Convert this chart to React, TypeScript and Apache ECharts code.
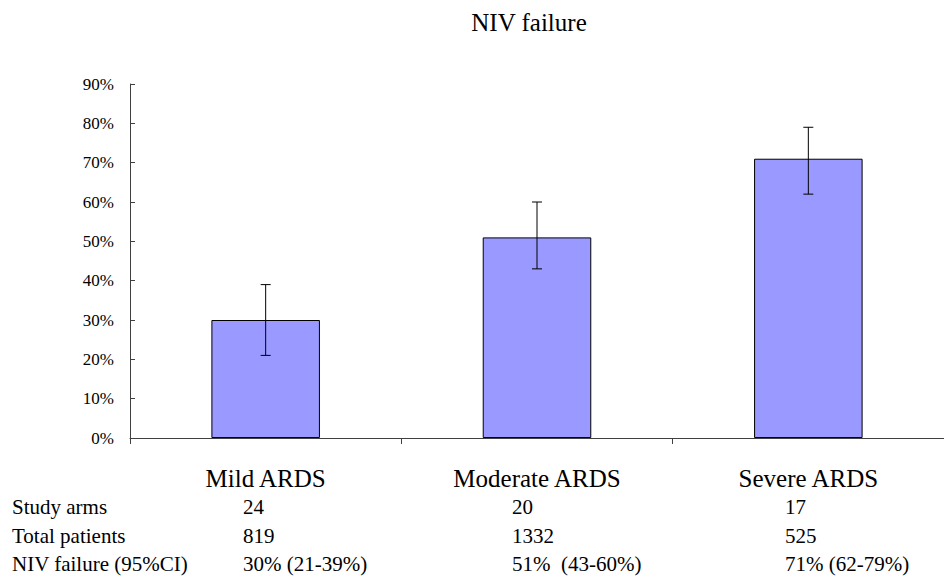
import React, { useEffect, useRef } from "react";
import * as echarts from "echarts";

const categories = ["Mild ARDS", "Moderate ARDS", "Severe ARDS"];
const failureRate = [30, 51, 71];
const ciLower = [21, 43, 62];
const ciUpper = [39, 60, 79];
const rowLabels = ["Study arms", "Total patients", "NIV failure (95%CI)"];
const studyArms = ["24", "20", "17"];
const totalPatients = ["819", "1332", "525"];
const failureText = ["30% (21-39%)", "51%  (43-60%)", "71% (62-79%)"];

const FONT = "Liberation Serif, serif";

export default function App() {
  const ref = useRef<HTMLDivElement>(null);
  useEffect(() => {
    if (!ref.current) return;
    const chart = echarts.init(ref.current, undefined, { renderer: "svg" });
    const rows = [studyArms, totalPatients, failureText];
    const colX = [243, 512, 785];
    const rowY = [507, 536, 564];
    const tableTexts: any[] = [];
    const tstyle = (text: string) => ({
      text,
      fontFamily: FONT,
      fontSize: 21,
      fill: "#000",
      textVerticalAlign: "middle",
    });
    rows.forEach((row, r) => {
      tableTexts.push({ type: "text", x: 12, y: rowY[r], style: tstyle(rowLabels[r]) });
      row.forEach((v, c) => {
        tableTexts.push({ type: "text", x: colX[c], y: rowY[r], style: tstyle(v) });
      });
    });
    chart.setOption({
      animation: false,
      backgroundColor: "#fff",
      textStyle: { fontFamily: FONT },
      grid: { left: 130, right: 0, top: 84, bottom: 139 },
      xAxis: {
        type: "category",
        data: categories,
        axisLine: { lineStyle: { color: "#404040", width: 1 } },
        axisTick: { show: true, length: 6, lineStyle: { color: "#404040" } },
        axisLabel: { margin: 28, fontSize: 25, fontFamily: FONT, color: "#000" },
      },
      yAxis: {
        type: "value",
        min: 0,
        max: 90,
        interval: 10,
        splitLine: { show: false },
        axisLine: { show: true, lineStyle: { color: "#404040", width: 1 } },
        axisTick: { show: true, inside: true, length: 5, lineStyle: { color: "#404040" } },
        axisLabel: { formatter: "{value}%", margin: 16, fontSize: 17, fontFamily: FONT, color: "#000" },
      },
      series: [
        {
          type: "bar",
          data: failureRate,
          barWidth: "40%",
          itemStyle: { color: "#9999FF", borderColor: "#000", borderWidth: 1 },
        },
        {
          type: "custom",
          data: categories.map((_, i) => [i, ciLower[i], ciUpper[i]]),
          renderItem: (params: any, api: any) => {
            const x = api.coord([api.value(0), api.value(1)])[0];
            const lo = api.coord([api.value(0), api.value(1)])[1];
            const hi = api.coord([api.value(0), api.value(2)])[1];
            const cap = 5;
            const style = { stroke: "#000", lineWidth: 1 };
            return {
              type: "group",
              children: [
                { type: "line", shape: { x1: x, y1: lo, x2: x, y2: hi }, style },
                { type: "line", shape: { x1: x - cap, y1: hi, x2: x + cap, y2: hi }, style },
                { type: "line", shape: { x1: x - cap, y1: lo, x2: x + cap, y2: lo }, style },
              ],
            };
          },
          z: 10,
        },
      ],
      graphic: [
        {
          type: "text",
          x: 529,
          y: 22,
          style: {
            text: "NIV failure",
            fontFamily: FONT,
            fontSize: 25,
            fill: "#000",
            textAlign: "center",
            textVerticalAlign: "middle",
          },
        },
        ...tableTexts,
      ],
    });
    return () => chart.dispose();
  }, []);
  return <div ref={ref} style={{ position: "fixed", left: 0, top: 0, width: 944, height: 577 }} />;
}
